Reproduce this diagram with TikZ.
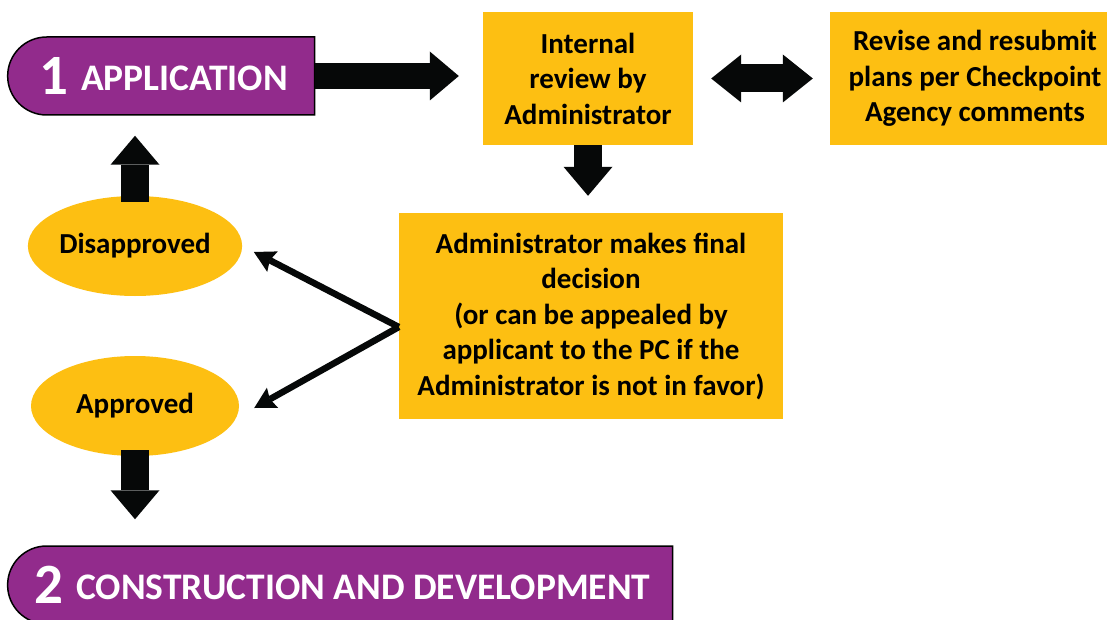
\documentclass[tikz,border=0pt]{standalone}
\usepackage{fontspec}
\setmainfont{Carlito}
\usetikzlibrary{arrows.meta,shapes.geometric,shapes.misc,calc}

\definecolor{bannerpurple}{HTML}{922B8C}
\definecolor{boxgold}{HTML}{FDBF12}
\definecolor{arrowblack}{HTML}{060808}

\begin{document}
\begin{tikzpicture}[x=1pt, y=-1pt,
    banner/.style={rounded rectangle, rounded rectangle right arc=none,
        fill=bannerpurple, draw=black, line width=1.5pt, text=white,
        inner sep=0pt, font=\fontsize{37.5}{40}\selectfont\bfseries},
    goldbox/.style={rectangle, fill=boxgold, align=center, inner sep=0pt,
        font=\fontsize{29}{35.5}\selectfont\bfseries},
    goldoval/.style={ellipse, fill=boxgold, inner sep=0pt,
        minimum width=208pt, minimum height=100pt,
        font=\fontsize{29}{35}\selectfont\bfseries},
    fatarrow/.style={arrowblack, line width=28pt,
        -{Triangle[length=29pt, width=49pt, line width=0pt]}},
    thinarrow/.style={arrowblack, line width=6.5pt,
        -{Stealth[length=21pt, width=23pt, inset=3pt, line width=0pt]}}
    ]

    %% Background
    \clip (0,0) rectangle (1107,620);
    \fill[white] (0,0) rectangle (1107,620);

    % Banners
    \node[banner, minimum width=307pt, minimum height=78pt] (app) at (163.5,76)
        {\raisebox{-4pt}{\fontsize{57}{57}\selectfont 1}\hspace{13pt}APPLICATION};
    \node[banner, minimum width=665pt, minimum height=78pt] (bot) at (342.5,585)
        {\raisebox{-4pt}{\fontsize{57}{57}\selectfont 2}\hspace{13pt}CONSTRUCTION AND DEVELOPMENT};

    % Boxes
    \node[goldbox, minimum width=210pt, minimum height=133pt] (rev) at (588,78.5)
        {Internal\\review by\\Administrator};
    \node[goldbox, minimum width=290pt, minimum height=133pt] (chk) at (975,78.5)
        {Revise and resubmit\\plans per Checkpoint\\Agency comments};
    \node[goldbox, minimum width=384pt, minimum height=206pt] (dec) at (591,316)
        {Administrator makes final\\decision\\(or can be appealed by\\applicant to the PC if the\\Administrator is not in favor)};

    % Decisions
    \node[goldoval] (dis) at (135,246) {Disapproved};
    \node[goldoval] (apr) at (135,406) {Approved};

    % Block arrows
    \draw[fatarrow, line width=26pt, shorten >=24pt]
        (app.east) -- (app.east -| rev.west);
    \draw[fatarrow, {Triangle[length=30pt, width=48pt, line width=0pt]}-{Triangle[length=30pt, width=48pt, line width=0pt]},
        shorten <=18pt, shorten >=17pt]
        (rev.east) -- (rev.east -| chk.west);
    \draw[fatarrow, shorten >=17pt]
        (rev.south) -- (rev.south |- dec.north);
    \draw[fatarrow, shorten <=-6pt, shorten >=20pt]
        (dis.north) -- (dis.north |- app.south);
    \draw[fatarrow, shorten <=-6pt, shorten >=26pt]
        (apr.south) -- (apr.south |- bot.north);

    % Fork
    \coordinate (fork) at ($(dec.west)+(0,11)$);
    \coordinate (aprtip) at ($(apr.east)+(15,2)$);
    \draw[thinarrow, shorten >=13pt] (fork) -- (dis.east);
    \draw[thinarrow] (fork) -- (aprtip);

\end{tikzpicture}
\end{document}
